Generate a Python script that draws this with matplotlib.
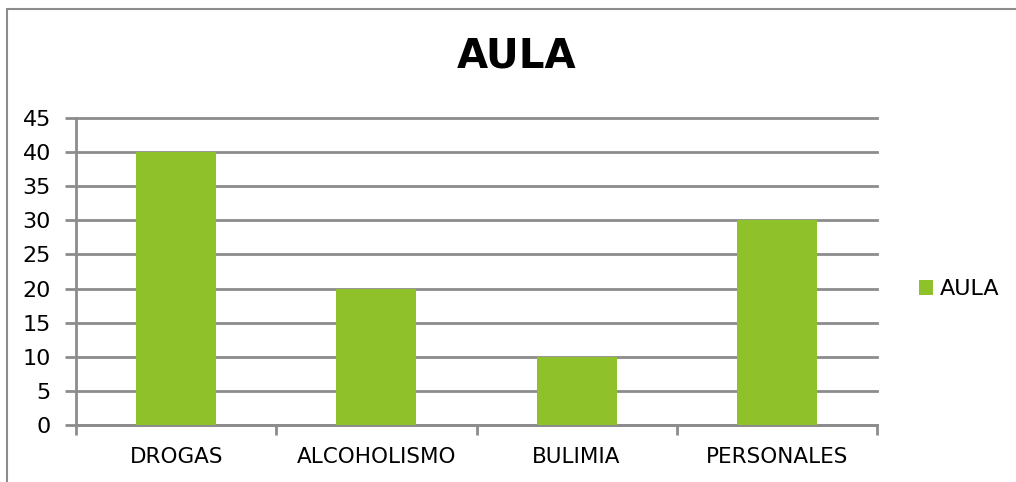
import matplotlib
matplotlib.use('Agg')
import matplotlib.pyplot as plt
import numpy as np

categories = ['DROGAS', 'ALCOHOLISMO', 'BULIMIA', 'PERSONALES']
values = [40, 20, 10, 30]
yticks = [0, 5, 10, 15, 20, 25, 30, 35, 40, 45]

bar_color = '#8FC12A'
grid_color = '#8C8C8C'

plt.rcParams['font.family'] = ['DejaVu Sans']

fig = plt.figure(figsize=(10.16, 4.82), dpi=100)
ax = fig.add_axes([76 / 1016, 1 - 425 / 482, (877 - 76) / 1016, (425 - 118) / 482])

x = np.arange(len(categories))
ax.bar(x, values, width=0.4, color=bar_color, label='AULA', zorder=3)

ax.set_xlim(-0.5, len(categories) - 0.5)
ax.set_ylim(0, 45)
ax.set_yticks(yticks)
ax.set_yticklabels([str(v) for v in yticks], fontsize=16)
ax.yaxis.grid(True, color=grid_color, linewidth=2, zorder=0, clip_on=False)

ax.set_xticks(x)
ax.set_xticklabels(categories, fontsize=15.5)
ax.tick_params(axis='x', length=0, pad=16)
ax.set_xticks(np.arange(-0.5, len(categories)), minor=True)
ax.tick_params(axis='x', which='minor', length=7, width=2, color=grid_color)
ax.tick_params(axis='y', length=8, width=2, color=grid_color, pad=10)

for side in ['top', 'right']:
    ax.spines[side].set_visible(False)
for side in ['left', 'bottom']:
    ax.spines[side].set_color(grid_color)
    ax.spines[side].set_linewidth(2)

fig.text(517 / 1016, 1 - 57 / 482, 'AULA', fontsize=29, fontweight='bold',
         ha='center', va='center')

fig.legend(loc='center left', bbox_to_anchor=(899 / 1016, 1 - 289 / 482),
           frameon=False, fontsize=16, handlelength=0.65, handleheight=0.65,
           handletextpad=0.3)

border = plt.Rectangle((7 / 1016, -0.1), 1.1, 1 - 9 / 482 + 0.1, transform=fig.transFigure,
                       fill=False, edgecolor='#8C8C8C', linewidth=1.5)
fig.patches.append(border)

fig.savefig('out.png', dpi=100)
